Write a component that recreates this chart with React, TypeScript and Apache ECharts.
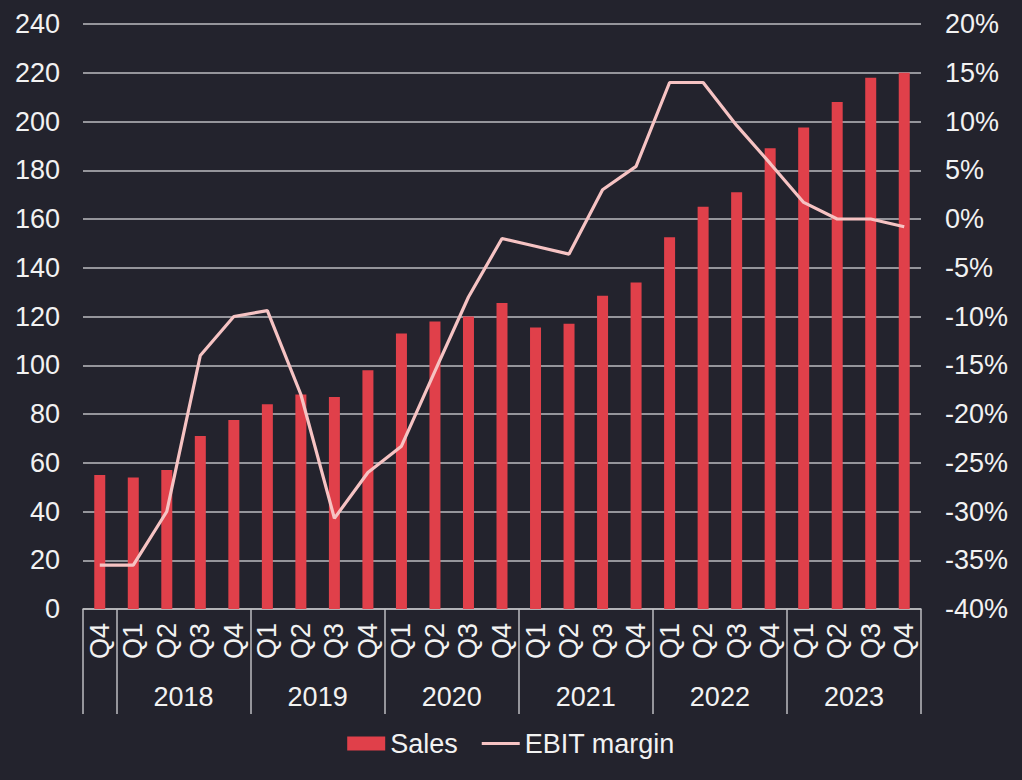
import React, { useEffect, useRef } from "react";
import * as echarts from "echarts";

const quarters = ["Q4", "Q1", "Q2", "Q3", "Q4", "Q1", "Q2", "Q3", "Q4", "Q1", "Q2", "Q3", "Q4", "Q1", "Q2", "Q3", "Q4", "Q1", "Q2", "Q3", "Q4", "Q1", "Q2", "Q3", "Q4"];
const years = ["2018", "2019", "2020", "2021", "2022", "2023"];
const sales = [55, 54, 57, 71, 77.5, 84, 88, 87, 98, 113, 118, 120, 125.5, 115.5, 117, 128.5, 134, 152.5, 165, 171, 189, 197.5, 208, 218, 220];
const ebitMargin = [-35.5, -35.5, -30, -14, -10, -9.4, -18, -30.7, -26, -23.3, -15.6, -8, -2, -2.8, -3.6, 3, 5.4, 14, 14, 9.6, 5.7, 1.7, 0, 0, -0.8];
const leftTicks = { min: 0, max: 240, interval: 20 };
const rightTicks = { min: -40, max: 20, interval: 5 };

const FONT = "'Liberation Sans', Arial, sans-serif";
const TEXT = "#f2f2f2";
const GRID = "#bdbdc0";
const LINE_ICON =
  "path://M0,0 L0.01,0 L0.01,0.01 Z M0,5.5 L38,5.5 L38,8.5 L0,8.5 Z M37.99,14 L38,14 L38,13.99 Z";

export default function App() {
  const ref = useRef<HTMLDivElement>(null);
  useEffect(() => {
    if (!ref.current) return;
    const chart = echarts.init(ref.current, null, { renderer: "svg" });

    // boundaries: start of series and every Q1 (start of a year group)
    const boundaries = quarters.map((q, i) => (i === 0 || q === "Q1" ? i : -1)).filter((i) => i >= 0);

    // year labels on a half-quarter grid (2 * quarters.length + 1 points)
    const yearSlots: string[] = new Array(quarters.length * 2 + 1).fill("");
    let yi = 0;
    boundaries.slice(1).forEach((start) => {
      const end = start + 4;
      const centre = start + end; // (start+end)/2 in quarters, doubled for half-quarter slots
      if (yi < years.length) yearSlots[centre] = years[yi++];
    });

    chart.setOption({
      animation: false,
      backgroundColor: "#23232d",
      textStyle: { fontFamily: FONT, color: TEXT },
      grid: { left: 83, right: 101, top: 24, bottom: 171, containLabel: false },
      legend: {
        bottom: 18,
        left: "center",
        itemWidth: 38,
        itemHeight: 14,
        itemGap: 24,
        textStyle: { color: TEXT, fontSize: 27, fontFamily: FONT },
        data: [
          { name: "Sales", icon: "rect" },
          { name: "EBIT margin", icon: LINE_ICON },
        ],
      },
      xAxis: [
        {
          type: "category",
          data: quarters,
          boundaryGap: true,
          position: "bottom",
          axisLine: { show: true, lineStyle: { color: GRID, width: 1.5 } },
          axisTick: {
            show: true,
            length: 105,
            interval: (index: number) => boundaries.includes(index),
            lineStyle: { color: GRID, width: 1.5 },
          },
          axisLabel: {
            interval: 0,
            rotate: 90,
            margin: 14,
            color: TEXT,
            fontSize: 27,
            fontFamily: FONT,
          },
          splitLine: { show: false },
        },
        {
          type: "category",
          data: yearSlots,
          boundaryGap: false,
          position: "bottom",
          axisLine: { show: false },
          axisTick: { show: false },
          axisLabel: {
            interval: 0,
            margin: 74,
            color: TEXT,
            fontSize: 27,
            fontFamily: FONT,
          },
          splitLine: { show: false },
        },
      ],
      yAxis: [
        {
          type: "value",
          ...leftTicks,
          position: "left",
          axisLine: { show: false },
          axisTick: { show: false },
          axisLabel: { margin: 23, color: TEXT, fontSize: 27, fontFamily: FONT },
          splitLine: { show: true, lineStyle: { color: GRID, width: 1.5 } },
        },
        {
          type: "value",
          ...rightTicks,
          position: "right",
          axisLine: { show: false },
          axisTick: { show: false },
          axisLabel: {
            margin: 24,
            color: TEXT,
            fontSize: 27,
            fontFamily: FONT,
            formatter: (v: number) => `${v}%`,
          },
          splitLine: { show: false },
        },
      ],
      series: [
        {
          name: "Sales",
          type: "bar",
          xAxisIndex: 0,
          yAxisIndex: 0,
          data: sales,
          barWidth: 11,
          itemStyle: { color: "#e0404a" },
        },
        {
          name: "EBIT margin",
          type: "line",
          xAxisIndex: 0,
          yAxisIndex: 1,
          data: ebitMargin,
          symbol: "none",
          lineStyle: { color: "#f6c3c3", width: 3.2 },
          itemStyle: { color: "#f6c3c3" },
        },
      ],
    });
    return () => chart.dispose();
  }, []);
  return <div ref={ref} style={{ width: 1022, height: 780, position: "absolute", left: 0, top: 0 }} />;
}
